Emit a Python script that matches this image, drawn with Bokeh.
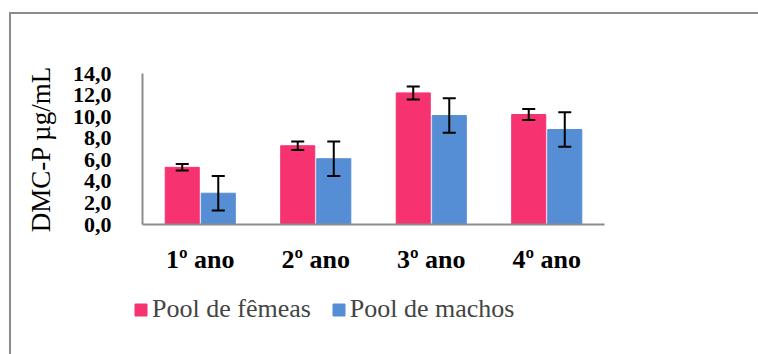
from bokeh.plotting import figure
from bokeh.layouts import column
from bokeh.models import (FactorRange, Range1d, Whisker, ColumnDataSource, Legend,
                          LegendItem, TeeHead, FixedTicker)
from bokeh.transform import dodge
from bokeh.embed import file_html
from bokeh.resources import INLINE

# ---- data ----
years = ["1º ano", "2º ano", "3º ano", "4º ano"]
femeas = [5.3, 7.3, 12.2, 10.2]
femeas_err = [0.3, 0.4, 0.6, 0.5]
machos = [2.9, 6.1, 10.1, 8.8]
machos_err = [1.6, 1.6, 1.6, 1.6]
tick_values = [0, 2, 4, 6, 8, 10, 12, 14]
tick_labels = ["0,0", "2,0", "4,0", "6,0", "8,0", "10,0", "12,0", "14,0"]
series_names = ["Pool de fêmeas", "Pool de machos"]

PINK = "#F63370"
BLUE = "#558ED5"
GRAY = "#8c8c8c"
SERIF = "Liberation Serif"

src = ColumnDataSource(dict(
    years=years,
    f=femeas, f_lo=[v - e for v, e in zip(femeas, femeas_err)], f_hi=[v + e for v, e in zip(femeas, femeas_err)],
    m=machos, m_lo=[v - e for v, e in zip(machos, machos_err)], m_hi=[v + e for v, e in zip(machos, machos_err)],
))

# ---- main chart ----
p = figure(width=758, height=280, output_backend="svg", toolbar_location=None,
           x_range=FactorRange(*years, range_padding=0), y_range=Range1d(0, 14),
           min_border_left=142, min_border_right=154, min_border_top=73, min_border_bottom=56)
p.frame_align = False
p.outline_line_color = None
p.grid.visible = False
p.background_fill_color = "white"
p.border_fill_color = None

off = 0.156
bw = 0.295
p.vbar(x=dodge("years", -off, range=p.x_range), top="f", width=bw, source=src,
       fill_color=PINK, line_color=PINK)
p.vbar(x=dodge("years", off, range=p.x_range), top="m", width=bw, source=src,
       fill_color=BLUE, line_color=BLUE)

for xo, lo, hi in [(-off, "f_lo", "f_hi"), (off, "m_lo", "m_hi")]:
    w = Whisker(base=dodge("years", xo, range=p.x_range), lower=lo, upper=hi, source=src,
                line_color="black", line_width=2, level="overlay",
                upper_head=TeeHead(size=13, line_color="black", line_width=2),
                lower_head=TeeHead(size=13, line_color="black", line_width=2))
    p.add_layout(w)

# y axis
p.yaxis.ticker = FixedTicker(ticks=tick_values)
p.yaxis.major_label_overrides = {v: l for v, l in zip(tick_values, tick_labels)}
p.yaxis.major_label_text_font = SERIF
p.yaxis.major_label_text_font_style = "bold"
p.yaxis.major_label_text_font_size = "22px"
p.yaxis.major_label_text_color = "black"
p.yaxis.major_tick_line_color = None
p.yaxis.minor_tick_line_color = None
p.yaxis.major_label_standoff = 25
p.yaxis.axis_line_color = GRAY
p.yaxis.axis_line_width = 2
p.yaxis.axis_label = "DMC-P µg/mL"
p.yaxis.axis_label_text_font = SERIF
p.yaxis.axis_label_text_font_style = "normal"
p.yaxis.axis_label_text_font_size = "27px"
p.yaxis.axis_label_text_color = "black"
p.yaxis.axis_label_standoff = 14

# x axis
p.xaxis.major_label_text_font = SERIF
p.xaxis.major_label_text_font_style = "bold"
p.xaxis.major_label_text_font_size = "26px"
p.xaxis.major_label_text_color = "black"
p.xaxis.major_tick_line_color = None
p.xaxis.minor_tick_line_color = None
p.xaxis.major_label_standoff = 14
p.xaxis.axis_line_color = GRAY
p.xaxis.axis_line_width = 2

# ---- legend strip ----
q = figure(width=758, height=74, output_backend="svg", toolbar_location=None,
           x_range=FactorRange(*years), y_range=Range1d(1000, 2000),
           x_axis_type=None, y_axis_type=None, min_border=0)
q.frame_align = False
q.outline_line_color = None
q.grid.visible = False
q.background_fill_color = None
q.border_fill_color = None
r_f = q.vbar(x="years", top="f", width=bw, source=src, fill_color=PINK, line_color=PINK)
r_m = q.vbar(x="years", top="m", width=bw, source=src, fill_color=BLUE, line_color=BLUE)
legend = Legend(items=[LegendItem(label=series_names[0], renderers=[r_f]),
                       LegendItem(label=series_names[1], renderers=[r_m])],
                orientation="horizontal", location=(133, 30),
                label_text_font=SERIF, label_text_font_size="26px",
                glyph_width=15, glyph_height=15, label_standoff=4, spacing=20,
                padding=0, margin=0, border_line_color=None, background_fill_alpha=0)
q.add_layout(legend)

layout = column(p, q, spacing=0)
# outer chart border (extends beyond the visible area), drawn as CSS background
layout.styles = {
    "background": (f"linear-gradient({GRAY},{GRAY}) 9px 12px / 2px 600px no-repeat, "
                   f"linear-gradient({GRAY},{GRAY}) 9px 12px / 900px 2px no-repeat, white")
}

open("out.html", "w").write(file_html(layout, INLINE))
